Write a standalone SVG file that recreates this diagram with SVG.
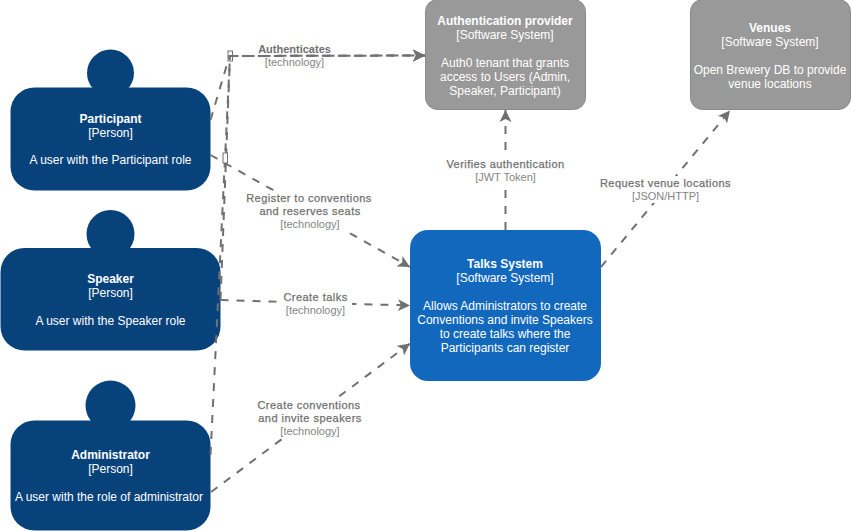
<svg xmlns="http://www.w3.org/2000/svg" width="851" height="531" viewBox="0 0 851 531">
<style>
text{font-family:"Liberation Sans",Arial,sans-serif;text-anchor:middle}
.n text{font-size:12px;fill:#fff}
.b{font-weight:bold}
.person{fill:#08427b}
.sys{fill:#1168bd}
.ext{fill:#999;stroke:#8a8a8a;stroke-width:1}
.c{fill:none;stroke:#707070;stroke-width:2;stroke-dasharray:8 8;marker-end:url(#a)}
.l text{font-size:11px;fill:#858585}
.l text.t{fill:#707070;stroke:#707070;stroke-width:.25px;letter-spacing:.46px}
.l text.d{fill:#707070;font-weight:bold}
.l rect{fill:#fff}
.h{fill:#fff;stroke:#707070;stroke-width:1}
</style>
<defs><marker id="a" markerUnits="userSpaceOnUse" markerWidth="14" markerHeight="14" refX="12" refY="6" orient="auto" viewBox="0 0 14 12"><path d="M0 0L12 6L0 12L3 6Z" fill="#707070"/></marker></defs>
<g id="participant" class="n"><circle class="person" cx="110.500" cy="73" r="23.500"/><rect class="person" x="10.500" y="87.500" width="200" height="103" rx="24"/><text class="b" x="110.500" y="123">Participant</text><text x="110.500" y="137">[Person]</text><text x="110.500" y="164">A user with the Participant role</text></g>
<g id="speaker" class="n"><circle class="person" cx="110.500" cy="234" r="24"/><rect class="person" x="0.500" y="248" width="220" height="102.500" rx="24"/><text class="b" x="110.500" y="283">Speaker</text><text x="110.500" y="297">[Person]</text><text x="110.500" y="325">A user with the Speaker role</text></g>
<g id="administrator" class="n"><circle class="person" cx="110.500" cy="405.500" r="25"/><rect class="person" x="10.500" y="420.500" width="200" height="110" rx="24"/><text class="b" x="110.500" y="459">Administrator</text><text x="110.500" y="473">[Person]</text><text x="109" y="501">A user with the role of administrator</text></g>
<g id="talks" class="n"><rect class="sys" x="410" y="230" width="191" height="151" rx="18"/><text class="b" x="505" y="268">Talks System</text><text x="505" y="282">[Software System]</text><text x="505" y="310">Allows Administrators to create</text><text x="505" y="324">Conventions and invite Speakers</text><text x="505" y="338">to create talks where the</text><text x="505" y="352">Participants can register</text></g>
<g id="auth" class="n"><rect class="ext" x="425.500" y="-0.500" width="160" height="110" rx="12"/><text class="b" x="505" y="25">Authentication provider</text><text x="505" y="39">[Software System]</text><text x="505" y="67">Auth0 tenant that grants</text><text x="505" y="81">access to Users (Admin,</text><text x="505" y="95">Speaker, Participant)</text></g>
<g id="venues" class="n"><rect class="ext" x="690.500" y="-0.500" width="160" height="110" rx="12"/><text class="b" x="770" y="32">Venues</text><text x="770" y="46">[Software System]</text><text x="770" y="74">Open Brewery DB to provide</text><text x="770" y="88">venue locations</text></g>
<g id="connectors">
<rect class="h" x="228" y="51" width="4.500" height="10"/>
<path class="c" d="M210.500 120L229.500 56L425 55.500"/>
<path class="c" d="M220.500 300L230 56L425 55.500"/>
<path class="c" d="M210.500 455L230 56L425 55.500"/>
<path class="c" d="M210.500 155L410 267"/>
<path class="c" d="M220.500 300L410 305.500"/>
<path class="c" d="M211 492L410 343.500"/>
<path class="c" d="M505.500 230V110"/>
<path class="c" d="M601 267L730 110.500"/>
<rect class="h" x="223" y="153" width="4.500" height="10"/>
</g>
<g id="labels" class="l">
<text class="d" x="294.500" y="53">Authenticates</text><text x="294.500" y="66">[technology]</text>
<rect x="246" y="192" width="126" height="40"/><text class="t" x="309" y="202">Register to conventions</text><text class="t" x="310" y="215">and reserves seats</text><text x="310" y="228">[technology]</text>
<rect x="284" y="291" width="68" height="27"/><text class="t" x="315.500" y="301">Create talks</text><text x="315.500" y="314">[technology]</text>
<rect x="257" y="398" width="106" height="40"/><text class="t" x="309" y="409">Create conventions</text><text class="t" x="310" y="422">and invite speakers</text><text x="310" y="435">[technology]</text>
<rect x="446" y="157" width="120" height="27"/><text class="t" x="505.500" y="168">Verifies authentication</text><text x="505.500" y="181">[JWT Token]</text>
<rect x="600" y="176" width="132" height="27"/><text class="t" x="665.500" y="187">Request venue locations</text><text x="665.500" y="200">[JSON/HTTP]</text>
</g>
</svg>
